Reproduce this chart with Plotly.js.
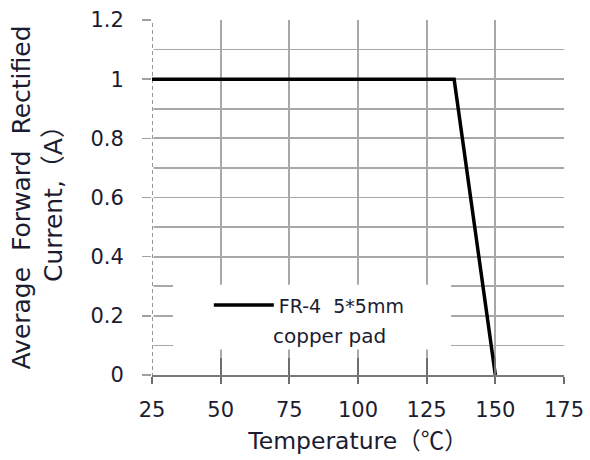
<!DOCTYPE html>
<html>
<head>
<meta charset="utf-8">
<script src="https://cdn.plot.ly/plotly-3.0.1.min.js"></script>
<style>html,body{margin:0;padding:0;background:#fff;}#chart{width:590px;height:460px;}</style>
</head>
<body>
<div id="chart"></div>
<script>
// Data
const temperature = [25, 135, 150];
const current = [1, 1, 0];
const seriesName = "FR-4\u00a0\u00a05*5mm";
const seriesNote = "copper pad";
const xTickVals = [25, 50, 75, 100, 125, 150, 175];
const yTickVals = [0, 0.2, 0.4, 0.6, 0.8, 1, 1.2];
const yTickText = ["0", "0.2", "0.4", "0.6", "0.8", "1", "1.2"];
const cjk = s => "<span style='font-family:Noto Sans CJK SC'>" + s + "</span>";
const xTitle = "Temperature" + cjk("（℃）");
const yTitle = "Average\u00a0\u00a0Forward\u00a0\u00a0Rectified<br>Current," + cjk("（") + "A" + cjk("）");

const FONT = "DejaVu Sans, Noto Sans CJK SC, sans-serif";
const TXT = "#1c1c30";
const GRID = "#a8a8a8";
const TICK = "#6e6e6e";

const xMin = xTickVals[0], xMax = xTickVals[xTickVals.length - 1];
const yMin = yTickVals[0], yMax = yTickVals[yTickVals.length - 1];
const px = f => xMin + f * (xMax - xMin);   // paper fraction -> x data
const py = f => yMin + f * (yMax - yMin);   // paper fraction -> y data

const trace = {
  x: temperature, y: current, type: "scatter", mode: "lines",
  name: seriesName,
  line: {color: "#000000", width: 3.5},
  xaxis: "x", yaxis: "y"
};
// invisible helper trace so the overlay axis (inside tick stubs) is drawn
const stub = {
  x: [xMin, xMax], y: [0, 0], type: "scatter", mode: "none",
  showlegend: false, hoverinfo: "skip", xaxis: "x2", yaxis: "y"
};

const layout = {
  width: 590, height: 460,
  margin: {l: 152, r: 26, t: 20, b: 85},
  paper_bgcolor: "#ffffff", plot_bgcolor: "#ffffff",
  font: {family: FONT, color: TXT, size: 20},
  showlegend: true,
  legend: {
    x: 0.138, y: 0.25, xanchor: "left", yanchor: "top",
    bgcolor: "rgba(0,0,0,0)", borderwidth: 0,
    font: {family: FONT, size: 19, color: TXT},
    itemwidth: 60
  },
  xaxis: {
    range: [xMin, xMax],
    tickmode: "array", tickvals: xTickVals,
    ticks: "outside", ticklen: 7, tickwidth: 2, tickcolor: TICK,
    showgrid: true, gridcolor: GRID, gridwidth: 1.8,
    showline: true, linecolor: "#7a7a7a", linewidth: 2,
    zeroline: false,
    tickfont: {family: FONT, size: 21, color: TXT},
    ticklabelstandoff: 8,
    title: {text: xTitle, font: {family: FONT, size: 23.5, color: TXT}, standoff: 6},
    layer: "above traces",
    fixedrange: true
  },
  xaxis2: {
    matches: "x", overlaying: "x", anchor: "y", side: "bottom",
    tickmode: "array", tickvals: xTickVals,
    ticks: "inside", ticklen: 17, tickwidth: 2, tickcolor: TICK,
    showticklabels: false, showgrid: false, showline: false, zeroline: false,
    layer: "above traces"
  },
  yaxis: {
    range: [yMin, yMax],
    tickmode: "array", tickvals: yTickVals, ticktext: yTickText,
    ticks: "outside", ticklen: 9, tickwidth: 1.5, tickcolor: "#a0a0a0",
    showgrid: true, gridcolor: GRID, gridwidth: 1.8,
    minor: {dtick: 0.1, showgrid: true, gridcolor: GRID, gridwidth: 1.8, ticks: ""},
    showline: false, zeroline: false,
    tickfont: {family: FONT, size: 21, color: TXT},
    ticklabelstandoff: 14,
    title: {text: yTitle, font: {family: FONT, size: 25, color: TXT}, standoff: 20},
    fixedrange: true
  },
  shapes: [
    // white panel behind the legend (stops above the tick stubs)
    {type: "rect", xref: "x", yref: "y", x0: px(0.051), x1: px(0.726), y0: py(0.072), y1: py(0.254),
     fillcolor: "#ffffff", line: {width: 0}, layer: "between"},
    // left dashed border
    {type: "line", xref: "x", yref: "y", x0: xMin, x1: xMin, y0: py(-0.025), y1: yMax,
     line: {color: "#ffffff", width: 3}, layer: "between"},
    {type: "line", xref: "x", yref: "y", x0: xMin, x1: xMin, y0: py(-0.025), y1: yMax,
     line: {color: "#8c8c8c", width: 1.8, dash: "4px,3px"}, layer: "between"}
  ],
  annotations: [
    {text: seriesNote, xref: "paper", yref: "paper", x: 0.29, y: 0.11,
     xanchor: "left", yanchor: "middle", showarrow: false,
     font: {family: FONT, size: 20, color: TXT}}
  ]
};

Plotly.newPlot("chart", [trace, stub], layout, {displayModeBar: false, staticPlot: true});
</script>
</body>
</html>
